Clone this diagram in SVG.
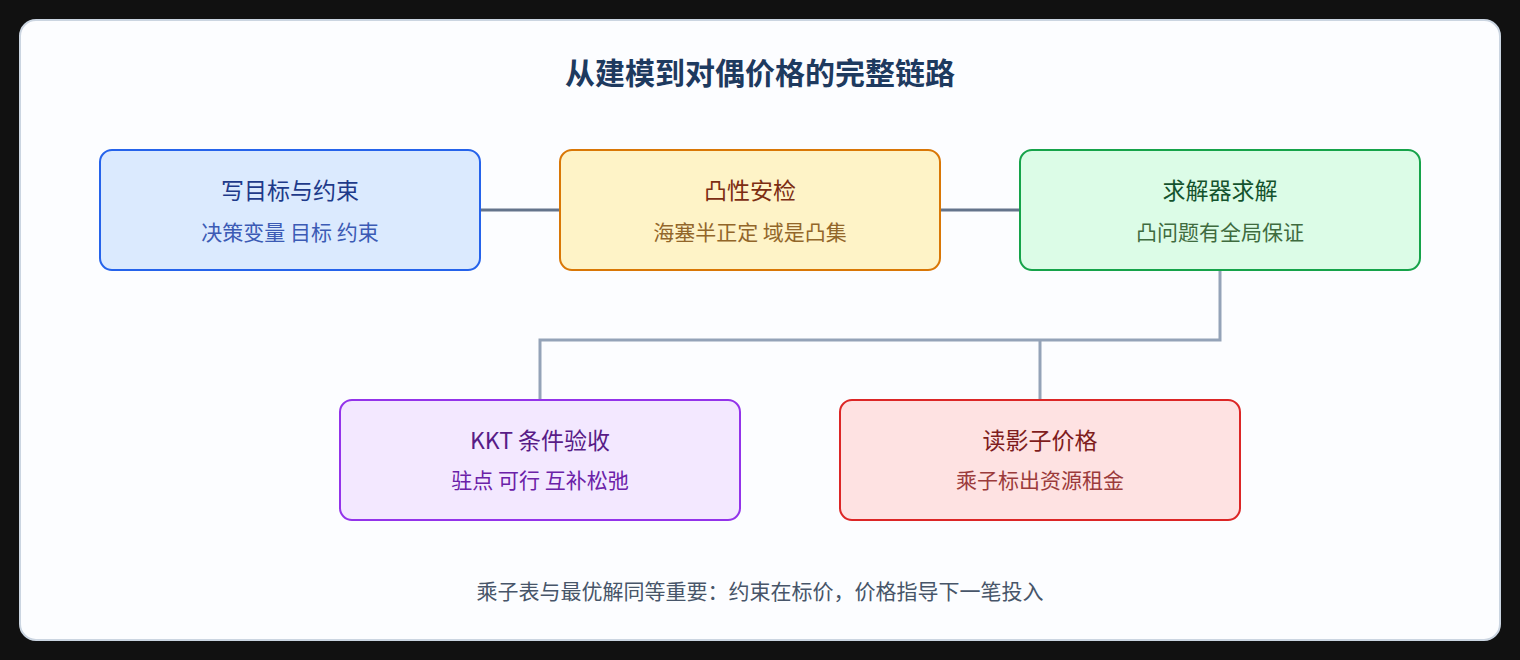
<svg xmlns="http://www.w3.org/2000/svg" width="1520" height="660" viewBox="0 0 1520 660">
<style>
text{font-family:"Noto Sans CJK SC","Noto Sans",sans-serif;text-anchor:middle}
.t{font-size:23px}
.s{font-size:21px}
.n{stroke-width:2}
</style>
<rect x="0" y="0" width="1520" height="660" fill="#111111"/>
<rect x="20" y="20" width="1480" height="620" rx="16" fill="#fcfdff" stroke="#cbd5e1" stroke-width="2"/>
<text x="760" y="84" font-size="30" font-weight="bold" fill="#1e3a5f">从建模到对偶价格的完整链路</text>
<g id="connectors" fill="none" stroke-width="3">
<path d="M480 210H560M940 210H1020" stroke="#64748b"/>
<path d="M1220 270V340H540V400M1040 340V400" stroke="#94a3b8"/>
</g>
<g id="n1"><rect class="n" x="100" y="150" width="380" height="120" rx="12" fill="#dbeafe" stroke="#2563eb"/>
<text class="t" x="290" y="199" fill="#1e3a8a">写目标与约束</text><text class="s" x="290" y="240" fill="#3b5bb5">决策变量 目标 约束</text></g>
<g id="n2"><rect class="n" x="560" y="150" width="380" height="120" rx="12" fill="#fef3c7" stroke="#d97706"/>
<text class="t" x="750" y="199" fill="#7c2d12">凸性安检</text><text class="s" x="750" y="240" fill="#92662a">海塞半正定 域是凸集</text></g>
<g id="n3"><rect class="n" x="1020" y="150" width="400" height="120" rx="12" fill="#dcfce7" stroke="#16a34a"/>
<text class="t" x="1220" y="199" fill="#14532d">求解器求解</text><text class="s" x="1220" y="240" fill="#3f6b3f">凸问题有全局保证</text></g>
<g id="n4"><rect class="n" x="340" y="400" width="400" height="120" rx="12" fill="#f3e8ff" stroke="#9333ea"/>
<text class="t" x="540" y="449" fill="#581c87">KKT 条件验收</text><text class="s" x="540" y="488" fill="#6b21a8">驻点 可行 互补松弛</text></g>
<g id="n5"><rect class="n" x="840" y="400" width="400" height="120" rx="12" fill="#fee2e2" stroke="#dc2626"/>
<text class="t" x="1040" y="449" fill="#7f1d1d">读影子价格</text><text class="s" x="1040" y="488" fill="#9b3b3b">乘子标出资源租金</text></g>
<text x="760" y="599" font-size="21" fill="#475569">乘子表与最优解同等重要：约束在标价，价格指导下一笔投入</text>
</svg>
